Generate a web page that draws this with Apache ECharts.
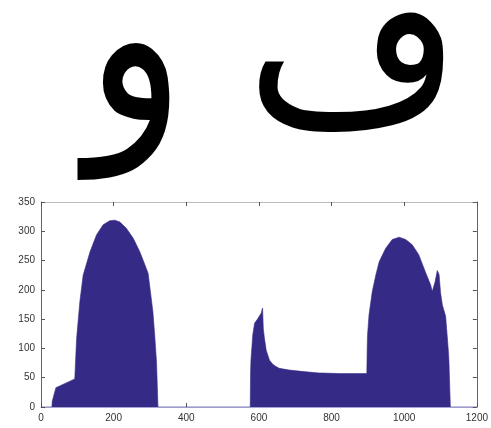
<!DOCTYPE html>
<html>
<head>
<meta charset="utf-8">
<script src="https://cdn.jsdelivr.net/npm/echarts@6/dist/echarts.min.js"></script>
<style>
  html, body { margin: 0; padding: 0; background: #fff; }
  #chart { width: 491px; height: 428px; }
</style>
</head>
<body>
<div id="chart"></div>
<script>
// Column profile of the two letters: x = pixel column, y = ink count
const profileX = [0, 30, 31, 41, 93, 96, 98, 107, 116, 135, 153, 171, 189, 203, 217, 235, 254, 272, 286, 295, 299, 308, 313, 318, 321, 322,
  576, 577, 578, 583, 588, 597, 606, 610, 612, 615, 620, 629, 638, 647, 656, 684, 730, 766, 775, 821, 867, 897, 898,
  899, 903, 912, 922, 931, 949, 967, 986, 1004, 1022, 1040, 1058, 1073, 1077, 1085, 1091, 1096, 1100, 1105, 1114, 1121, 1123, 1126, 1127, 1200];
const profileY = [0, 0, 10, 33, 48, 48, 117, 180, 225, 265, 294, 311, 318, 319, 316, 305, 288, 265, 243, 228, 208, 163, 123, 77, 20, 0,
  0, 60, 80, 123, 143, 151, 160, 169, 134, 118, 97, 80, 73, 69, 66, 63, 60, 58, 58, 57, 57, 57, 100,
  123, 157, 197, 226, 248, 271, 286, 290, 286, 277, 260, 231, 208, 197, 214, 233, 226, 195, 174, 155, 100, 80, 20, 0, 0];

const xTicks = [0, 200, 400, 600, 800, 1000, 1200];
const yTicks = [0, 50, 100, 150, 200, 250, 300, 350];

// The two letters shown above the plot
const letters = ['و', 'ڡ'];

const points = profileX.map((x, i) => [x, profileY[i]]);

const chart = echarts.init(document.getElementById('chart'), null, { renderer: 'canvas' });
const fill = '#352b86';
const labelStyle = () => ({
  color: '#333', fontSize: 10, fontFamily: 'Liberation Sans, Arial, sans-serif', margin: 6,
  formatter: v => String(v)
});
const tickStyle = () => ({ show: true, inside: true, length: 4, lineStyle: { color: '#555', width: 1 } });
const frameLine = color => ({ show: true, onZero: false, lineStyle: { color: color, width: 1 } });

chart.setOption({
  animation: false,
  backgroundColor: '#fff',
  grid: { left: 41, right: 13, top: 202, bottom: 21 },
  xAxis: [
    {
      type: 'value', position: 'bottom', min: xTicks[0], max: xTicks[xTicks.length - 1], interval: 200,
      axisLine: frameLine('#a6a6d6'),
      axisTick: tickStyle(),
      axisLabel: labelStyle(),
      splitLine: { show: false }
    },
    {
      type: 'value', position: 'top', min: xTicks[0], max: xTicks[xTicks.length - 1], interval: 200,
      axisLine: frameLine('#bbb'),
      axisTick: tickStyle(),
      axisLabel: { show: false },
      splitLine: { show: false }
    }
  ],
  yAxis: [
    {
      type: 'value', position: 'left', min: yTicks[0], max: yTicks[yTicks.length - 1], interval: 50,
      axisLine: frameLine('#666'),
      axisTick: tickStyle(),
      axisLabel: labelStyle(),
      splitLine: { show: false }
    },
    {
      type: 'value', position: 'right', min: yTicks[0], max: yTicks[yTicks.length - 1], interval: 50,
      axisLine: frameLine('#666'),
      axisTick: tickStyle(),
      axisLabel: { show: false },
      splitLine: { show: false }
    }
  ],
  series: [{
    type: 'line',
    data: points,
    symbol: 'none',
    lineStyle: { color: fill, width: 0.6 },
    areaStyle: { color: fill, opacity: 1 },
    z: 1
  }],
  graphic: [
    {
      type: 'text', x: 86, y: -66, scaleX: 1.14, scaleY: 1.36,
      style: { text: letters[0], x: 0, y: 0, font: '180px "DejaVu Sans"', fill: '#000', textAlign: 'left', textVerticalAlign: 'top' }
    },
    {
      type: 'text', x: 246, y: -50, scaleX: 1.15, scaleY: 1.26,
      style: { text: letters[1], x: 0, y: 0, font: '180px "DejaVu Sans"', fill: '#000', textAlign: 'left', textVerticalAlign: 'top' }
    }
  ]
});
</script>
</body>
</html>
